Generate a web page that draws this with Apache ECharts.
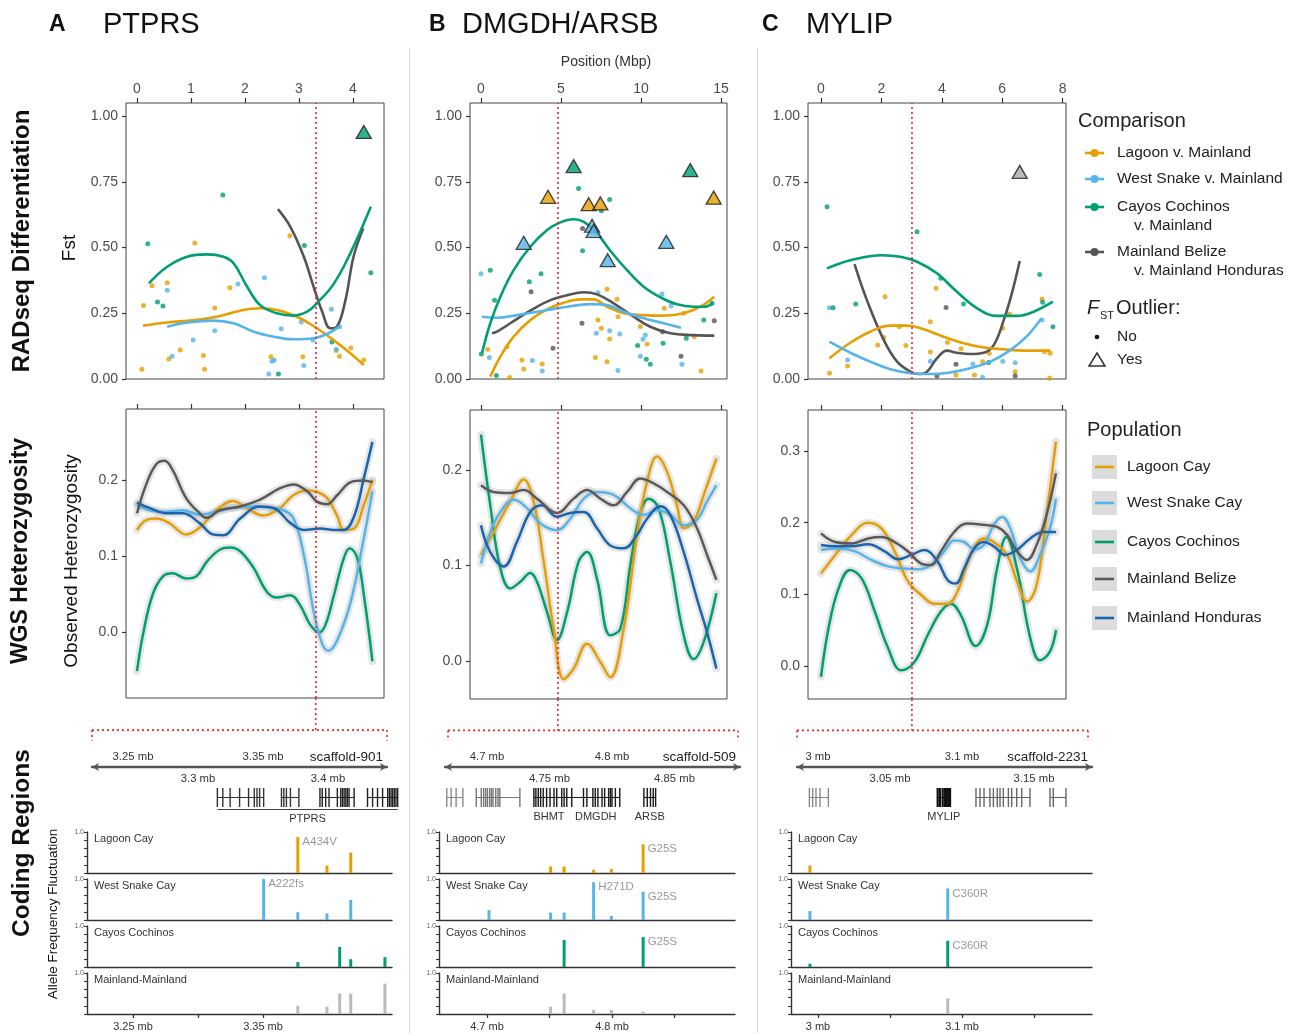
<!DOCTYPE html>
<html><head><meta charset="utf-8">
<script src="https://cdn.jsdelivr.net/npm/echarts@6/dist/echarts.min.js"></script>
<style>html,body{margin:0;padding:0;background:#fff}#c{width:1298px;height:1033px}</style>
</head><body><div id="c"></div><script>
// ================= DATA =================
const fstTicksA = [0,1,2,3,4], fstTicksB = [0,5,10,15], fstTicksC = [0,2,4,6,8];
const fstYTicks = [0,0.25,0.5,0.75,1];
const hetYTicksA = [0,0.1,0.2], hetYTicksB = [0,0.1,0.2], hetYTicksC = [0,0.1,0.2,0.3];
const redPos = [3.31, 4.8, 3.01];

// ---- Fst points (Position Mbp, Fst) ----
const fstA_lag = [[0.09,0.037],[0.12,0.28],[0.28,0.355],[0.56,0.366],[0.59,0.076],[0.80,0.11],[1.07,0.517],[1.23,0.089],[1.25,0.037],[1.44,0.27],[1.72,0.347],[2.48,0.085],[2.83,0.545],[3.07,0.085],[3.69,0.108],[3.75,0.087],[3.96,0.118],[4.20,0.072]];
const fstA_ws = [[0.56,0.338],[0.65,0.087],[1.04,0.148],[1.44,0.184],[1.87,0.361],[2.36,0.385],[2.44,0.019],[2.50,0.068],[2.54,0.072],[2.67,0.191],[3.04,0.217],[3.09,0.051],[3.26,0.148],[3.60,0.265],[3.69,0.113],[3.75,0.199]];
const fstA_cc = [[0.20,0.515],[0.38,0.293],[0.48,0.278],[1.59,0.70],[2.62,0.019],[3.10,0.508],[3.61,0.141],[4.33,0.404]];
const fstA_mm = [];
const fstA_out = [[4.20,0.94,'cc']];
const fitA_lag = [[0.11,0.203],[0.56,0.215],[1.05,0.224],[1.48,0.237],[1.91,0.26],[2.28,0.269],[2.65,0.26],[3.02,0.231],[3.33,0.193],[3.64,0.148],[3.95,0.098],[4.20,0.053]];
const fitA_ws = [[0.56,0.199],[0.93,0.215],[1.42,0.222],[1.79,0.212],[2.16,0.18],[2.53,0.161],[2.90,0.151],[3.27,0.155],[3.52,0.171],[3.77,0.203]];
const fitA_cc = [[0.22,0.364],[0.56,0.427],[0.93,0.465],[1.30,0.474],[1.60,0.465],[1.79,0.44],[2.04,0.351],[2.28,0.281],[2.59,0.25],[2.90,0.241],[3.15,0.256],[3.33,0.288],[3.64,0.361],[3.95,0.478],[4.33,0.655]];
const fitA_mm = [[2.61,0.646],[2.84,0.579],[3.09,0.465],[3.27,0.351],[3.43,0.256],[3.58,0.193],[3.70,0.199],[3.86,0.30],[4.01,0.465],[4.19,0.573]];

const fstB_lag = [[0.42,0.113],[1.63,0.123],[1.79,0.006],[2.56,0.072],[2.67,0.038],[3.83,0.057],[7.15,0.082],[7.31,0.224],[7.52,0.193],[7.88,0.341],[7.88,0.066],[8.04,0.152],[8.5,0.303],[8.56,0.237],[9.96,0.2],[10.38,0.133],[11.46,0.269],[12.67,0.25],[13.33,0.161],[13.75,0.03]];
const fstB_ws = [[0.0,0.40],[0.52,0.082],[3.21,0.07],[3.83,0.03],[7.21,0.174],[7.31,0.328],[8.04,0.184],[8.56,0.032],[8.67,0.171],[9.96,0.087],[10.13,0.151],[10.27,0.167],[11.31,0.323],[11.88,0.278],[12.56,0.056]];
const fstB_cc = [[0.02,0.095],[0.58,0.414],[0.85,0.30],[0.96,0.013],[3.02,0.37],[3.75,0.40],[6.1,0.725],[6.35,0.488],[7.52,0.64],[8.04,0.683],[9.79,0.127],[10.33,0.075],[10.58,0.056],[11.38,0.136],[12.83,0.155],[13.92,0.224],[14.44,0.288]];
const fstB_mm = [[3.13,0.332],[4.5,0.117],[6.31,0.212],[6.35,0.573],[11.35,0.18],[12.5,0.087],[14.58,0.222]];
const fstB_out = [[5.79,0.81,'cc'],[13.08,0.795,'cc'],[4.19,0.693,'lag'],[6.73,0.665,'lag'],[7.46,0.668,'lag'],[14.54,0.69,'lag'],[2.67,0.518,'ws'],[6.94,0.583,'ws'],[7.04,0.563,'ws'],[7.92,0.452,'ws'],[11.58,0.522,'ws']];
const fitB_lag = [[0.58,0.009],[1.21,0.085],[2.04,0.161],[3.08,0.224],[4.13,0.265],[5.17,0.29],[6.21,0.303],[7.04,0.303],[7.88,0.275],[8.92,0.25],[10.17,0.243],[11.42,0.241],[12.67,0.25],[13.71,0.275],[14.58,0.313]];
const fitB_ws = [[0.06,0.237],[1.0,0.233],[2.25,0.243],[3.92,0.26],[5.38,0.275],[6.83,0.285],[7.88,0.281],[8.92,0.256],[10.17,0.231],[11.42,0.212],[12.5,0.195]];
const fitB_cc = [[0.06,0.098],[0.58,0.212],[1.21,0.313],[2.04,0.414],[3.08,0.503],[4.13,0.567],[4.96,0.596],[5.79,0.608],[6.42,0.598],[7.25,0.554],[8.08,0.488],[9.13,0.414],[10.17,0.351],[11.21,0.311],[12.25,0.284],[13.29,0.275],[13.92,0.275],[14.5,0.288]];
const fitB_mm = [[0.69,0.174],[1.0,0.18],[1.83,0.212],[3.08,0.26],[4.33,0.30],[5.38,0.319],[6.42,0.33],[7.25,0.322],[8.29,0.288],[9.54,0.237],[10.58,0.199],[11.83,0.174],[13.29,0.167],[14.58,0.165]];

const fstC_lag = [[0.28,0.022],[0.88,0.049],[1.88,0.129],[2.08,0.158],[2.12,0.313],[2.59,0.199],[2.81,0.127],[3.62,0.218],[3.62,0.103],[3.81,0.345],[4.19,0.139],[4.47,0.015],[4.64,0.115],[5.08,0.015],[5.35,0.066],[5.57,0.098],[6.02,0.193],[6.24,0.247],[6.43,0.028],[7.32,0.304],[7.4,0.104],[7.57,0.003],[7.59,0.098]];
const fstC_ws = [[0.28,0.271],[0.88,0.072],[3.62,0.068],[5.03,0.057],[5.35,0.006],[6.02,0.068],[6.43,0.062],[7.32,0.224]];
const fstC_cc = [[0.2,0.655],[0.4,0.271],[1.15,0.285],[3.18,0.56],[3.97,0.383],[4.72,0.285],[5.55,0.063],[7.24,0.398],[7.34,0.292],[7.68,0.199]];
const fstC_mm = [[3.84,0.011],[4.14,0.272],[4.47,0.056],[6.43,0.011]];
const fstC_out = [[6.58,0.788,'mm']];
const fitC_lag = [[0.28,0.079],[0.97,0.138],[1.63,0.18],[2.3,0.203],[2.85,0.203],[3.4,0.189],[4.06,0.161],[4.72,0.136],[5.39,0.12],[6.05,0.113],[6.71,0.108],[7.59,0.108]];
const fitC_ws = [[0.28,0.142],[0.97,0.1],[1.63,0.066],[2.3,0.037],[2.96,0.022],[3.62,0.019],[4.28,0.025],[4.94,0.041],[5.61,0.066],[6.27,0.11],[6.82,0.163],[7.3,0.231]];
const fitC_cc = [[0.2,0.421],[0.97,0.452],[2.02,0.471],[2.63,0.465],[3.18,0.446],[3.84,0.402],[4.5,0.332],[5.17,0.269],[5.83,0.24],[6.49,0.24],[7.04,0.256],[7.68,0.294]];
const fitC_mm = [[1.11,0.437],[1.52,0.30],[2.08,0.148],[2.52,0.066],[2.96,0.028],[3.23,0.019],[3.51,0.028],[3.84,0.079],[4.17,0.108],[4.5,0.1],[4.94,0.095],[5.39,0.1],[5.72,0.129],[6.05,0.224],[6.32,0.326],[6.58,0.449]];

// ---- WGS heterozygosity smooths ----
const hetA_lag = [[0,0.135],[0.17,0.148],[0.35,0.15],[0.6,0.144],[0.91,0.129],[1.16,0.138],[1.47,0.161],[1.78,0.173],[2.03,0.164],[2.34,0.154],[2.65,0.164],[2.9,0.181],[3.15,0.187],[3.34,0.185],[3.52,0.177],[3.71,0.153],[3.83,0.135],[4.02,0.137],[4.2,0.168],[4.36,0.201]];
const hetA_ws = [[0,0.168],[0.23,0.161],[0.54,0.159],[0.85,0.161],[1.16,0.155],[1.47,0.159],[1.78,0.164],[2.16,0.166],[2.47,0.164],[2.71,0.161],[2.9,0.15],[3.09,0.102],[3.27,0.028],[3.43,-0.015],[3.55,-0.024],[3.71,-0.01],[3.96,0.041],[4.2,0.124],[4.36,0.186]];
const hetA_cc = [[0,-0.051],[0.11,-0.003],[0.29,0.05],[0.48,0.074],[0.66,0.078],[0.91,0.071],[1.1,0.074],[1.29,0.093],[1.53,0.109],[1.72,0.112],[1.91,0.107],[2.16,0.085],[2.4,0.054],[2.59,0.046],[2.84,0.049],[3.02,0.036],[3.21,0.01],[3.37,0.0],[3.49,0.01],[3.65,0.05],[3.83,0.098],[3.94,0.111],[4.08,0.098],[4.2,0.05],[4.36,-0.038]];
const hetA_mb = [[0,0.157],[0.17,0.195],[0.35,0.221],[0.51,0.226],[0.66,0.214],[0.91,0.177],[1.16,0.157],[1.29,0.151],[1.53,0.161],[1.91,0.166],[2.28,0.175],[2.65,0.19],[2.9,0.195],[3.15,0.186],[3.34,0.172],[3.52,0.169],[3.71,0.181],[3.96,0.198],[4.17,0.2],[4.36,0.198]];
const hetA_mh = [[0,0.171],[0.23,0.164],[0.54,0.157],[0.85,0.157],[1.16,0.144],[1.41,0.129],[1.6,0.128],[1.91,0.15],[2.28,0.166],[2.53,0.164],[2.84,0.144],[3.09,0.135],[3.4,0.137],[3.65,0.135],[3.83,0.135],[4.02,0.153],[4.2,0.203],[4.36,0.251]];

const hetB_lag = [[0,0.111],[0.79,0.135],[1.83,0.167],[2.67,0.19],[3.29,0.167],[3.92,0.104],[4.54,0.034],[5.17,-0.019],[5.79,-0.008],[6.63,0.018],[7.46,-0.001],[8.08,-0.017],[8.92,0.034],[9.75,0.132],[10.38,0.188],[11.0,0.214],[11.63,0.198],[12.25,0.163],[12.67,0.139],[13.29,0.146],[13.92,0.174],[14.71,0.212]];
const hetB_ws = [[0,0.102],[0.58,0.135],[1.21,0.156],[2.04,0.169],[2.88,0.16],[3.71,0.144],[4.75,0.137],[5.58,0.149],[6.42,0.17],[7.25,0.177],[8.29,0.174],[9.33,0.16],[10.17,0.153],[11.0,0.158],[11.83,0.153],[12.67,0.142],[13.5,0.148],[14.13,0.167],[14.71,0.184]];
const hetB_cc = [[0,0.237],[0.58,0.163],[1.21,0.097],[1.83,0.076],[2.46,0.083],[3.08,0.092],[3.5,0.083],[4.13,0.051],[4.75,0.022],[5.38,0.051],[6.1,0.104],[6.63,0.114],[7.25,0.086],[8.08,0.027],[8.71,0.034],[9.33,0.1],[9.96,0.155],[10.48,0.17],[11.1,0.16],[11.83,0.104],[12.67,0.027],[13.29,0.002],[13.92,0.02],[14.71,0.071]];
const hetB_mb = [[0,0.184],[0.79,0.177],[1.83,0.176],[2.67,0.179],[3.5,0.17],[4.75,0.155],[5.79,0.17],[6.63,0.179],[7.46,0.17],[8.29,0.163],[9.13,0.177],[9.96,0.191],[10.79,0.186],[11.63,0.177],[12.67,0.163],[13.5,0.139],[14.13,0.111],[14.71,0.085]];
const hetB_mh = [[0,0.142],[0.58,0.114],[1.42,0.099],[2.25,0.125],[3.08,0.156],[3.81,0.163],[4.75,0.151],[5.58,0.155],[6.42,0.156],[7.25,0.139],[8.08,0.121],[8.92,0.118],[9.75,0.132],[10.38,0.149],[11.21,0.162],[11.83,0.153],[12.67,0.114],[13.5,0.065],[14.13,0.03],[14.71,-0.008]];

const hetC_lag = [[0,0.129],[0.47,0.155],[1.02,0.183],[1.56,0.2],[2.0,0.192],[2.44,0.16],[2.88,0.118],[3.32,0.099],[3.75,0.087],[4.19,0.087],[4.52,0.104],[4.96,0.155],[5.39,0.178],[5.72,0.173],[6.16,0.155],[6.49,0.118],[6.82,0.09],[7.14,0.113],[7.47,0.211],[7.78,0.313]];
const hetC_ws = [[0,0.162],[0.58,0.164],[1.13,0.16],[1.67,0.148],[2.22,0.139],[2.77,0.136],[3.21,0.135],[3.64,0.141],[4.08,0.16],[4.41,0.175],[4.74,0.173],[5.07,0.163],[5.39,0.169],[5.72,0.197],[6.0,0.208],[6.27,0.192],[6.6,0.15],[6.93,0.132],[7.25,0.155],[7.58,0.192],[7.78,0.233]];
const hetC_cc = [[0,-0.015],[0.25,0.053],[0.58,0.108],[0.96,0.134],[1.35,0.122],[1.78,0.076],[2.22,0.025],[2.66,-0.006],[3.1,0.006],[3.53,0.043],[3.97,0.076],[4.3,0.087],[4.63,0.071],[5.12,0.028],[5.5,0.057],[5.83,0.136],[6.14,0.18],[6.49,0.136],[6.93,0.039],[7.25,0.008],[7.58,0.02],[7.78,0.05]];
const hetC_mb = [[0,0.185],[0.47,0.173],[1.02,0.171],[1.56,0.178],[2.0,0.18],[2.44,0.173],[2.88,0.16],[3.32,0.143],[3.64,0.141],[3.97,0.16],[4.41,0.187],[4.85,0.199],[5.39,0.197],[5.83,0.194],[6.16,0.183],[6.49,0.16],[6.82,0.148],[7.14,0.169],[7.47,0.211],[7.78,0.269]];
const hetC_mh = [[0,0.169],[0.47,0.167],[1.02,0.167],[1.56,0.17],[2.11,0.16],[2.55,0.149],[2.99,0.155],[3.42,0.162],[3.86,0.146],[4.19,0.12],[4.46,0.115],[4.74,0.136],[5.07,0.164],[5.39,0.173],[5.72,0.167],[6.1,0.155],[6.49,0.162],[6.93,0.178],[7.36,0.187],[7.78,0.187]];

// ---- coding regions: allele frequency fluctuation [mb, value, annotation] ----
const afA_lag = [[3.3768,0.88,'A434V'],[3.3992,0.18],[3.4175,0.5]];
const afA_ws = [[3.3505,1.0,'A222fs'],[3.3768,0.19],[3.3992,0.16],[3.4175,0.49]];
const afA_cc = [[3.3768,0.12],[3.409,0.49],[3.4175,0.19],[3.4438,0.24]];
const afA_mm = [[3.3768,0.2],[3.3992,0.18],[3.409,0.5],[3.4175,0.5],[3.4438,0.74]];
const afB_lag = [[4.7509,0.16],[4.7617,0.16],[4.7853,0.08],[4.7995,0.1],[4.8249,0.70,'G25S']];
const afB_ws = [[4.7016,0.24],[4.7509,0.18],[4.7617,0.18],[4.7853,0.92,'H271D'],[4.7995,0.1],[4.8249,0.69,'G25S']];
const afB_cc = [[4.7617,0.66],[4.8249,0.73,'G25S']];
const afB_mm = [[4.7509,0.18],[4.7617,0.5],[4.7853,0.1],[4.7995,0.1],[4.8249,0.06]];
const afC_lag = [[2.9944,0.18]];
const afC_ws = [[2.9944,0.22],[3.0901,0.77,'C360R']];
const afC_cc = [[2.9944,0.08],[3.0901,0.64,'C360R']];
const afC_mm = [[3.0901,0.38]];
const afPanels = ['Lagoon Cay','West Snake Cay','Cayos Cochinos','Mainland-Mainland'];

// ---- gene models: exon positions (mb) ----
const exonsA = [
  [3.3149,3.3191,3.3247,3.332,3.3389,3.3433,3.3454,3.3474,3.3505],
  [3.3642,3.366,3.368,3.3711,3.3776],
  [3.3938,3.3956,3.3982,3.4008,3.4072,3.4098,3.4111,3.4124,3.4137,3.4149,3.4162,3.4201],
  [3.4304,3.4343,3.4381,3.442,3.4459,3.4472,3.4485,3.4497,3.451,3.4523,3.4536]];
const exonsB = [
  [4.6678,4.6713,4.6753,4.6807],
  [4.6914,4.6954,4.6973,4.6989,4.7003,4.7021,4.7035,4.7048,4.707,4.7088,4.7102,4.7263],
  [4.7375,4.7391,4.741,4.7429,4.745,4.7477,4.7504,4.7536,4.7558,4.7598,4.7617,4.7638,4.7678,4.7772,4.7799,4.7847,4.7866,4.7887,4.792,4.7941,4.7973,4.7987,4.8,4.8027,4.8062],
  [4.8255,4.8282,4.8308,4.833,4.8349]];
const exonsC = [
  [2.994,2.9963,2.9986,3.0014,3.0072],
  [3.0831,3.0847,3.0866,3.0882,3.0894,3.0905,3.0917],
  [3.1097,3.1125,3.1153,3.1194,3.1218,3.1245,3.1264,3.1287,3.1322,3.1345,3.138,3.1415,3.1472],
  [3.1611,3.1634,3.1722]];
const geneLabelsA = [['PTPRS',3.3149,3.4536,1]];
const geneLabelsB = [['BHMT',4.7375,4.7617,0],['DMGDH',4.7678,4.8062,0],['ARSB',4.8255,4.8349,0]];
const geneLabelsC = [['MYLIP',3.0831,3.0917,0]];
const rulerTopA = [3.25,3.35], rulerBotA = [3.3,3.4], afTicksA = [3.25,3.3,3.35], afLabA = [3.25,3.35];
const rulerTopB = [4.7,4.8], rulerBotB = [4.75,4.85], afTicksB = [4.7,4.75,4.8,4.85], afLabB = [4.7,4.8];
const rulerTopC = [3.0,3.1], rulerBotC = [3.05,3.15], afTicksC = [3.0,3.05,3.1,3.15], afLabC = [3.0,3.1];
const scaffolds = ['scaffold-901','scaffold-509','scaffold-2231'];
const titles = [['A','PTPRS'],['B','DMGDH/ARSB'],['C','MYLIP']];

// ================= STYLE / LAYOUT =================
const FF = "'Liberation Sans', Arial, Helvetica, sans-serif";
const CMP = {lag:'#E69F00', ws:'#56B4E9', cc:'#009E73', mm:'#555555'};
const OUTC = {lag:'#E69F00', ws:'#56B4E9', cc:'#009E73', mm:'#AAAAAA'};
const POP = {lag:'#E69F00', ws:'#56B4E9', cc:'#009E73', mb:'#5a5a5a', mh:'#1A65AE'};
const AFC = {lag:'#E69F00', ws:'#56B4E9', cc:'#009E73', mm:'#BBBBBB'};
const RED = '#E8262B';
const cols = [
  {L:126,R:384,x0:137,ppu:54, hetTop:409, brL:92,brR:387, ruL:92,ruR:387, geL:92,geR:400, bL:87,bR:392, m0:3.25,p0:133,ppm:1300},
  {L:470,R:727,x0:481,ppu:16, hetTop:410, brL:448,brR:738, ruL:445,ruR:740, geL:440,geR:740, bL:439,bR:735, m0:4.7,p0:487,ppm:1250},
  {L:808,R:1066,x0:821,ppu:30.2, hetTop:410, brL:797,brR:1088, ruL:797,ruR:1092, geL:795,geR:1092, bL:791,bR:1092, m0:3.0,p0:818,ppm:1440}];
const hetRange = [[-0.0863,0.2943],[-0.0398,0.2628],[-0.046,0.3572]];
const hetTicks = [hetYTicksA, hetYTicksB, hetYTicksC];
const fstTicks = [fstTicksA, fstTicksB, fstTicksC];
const fstData = [
  {pts:{lag:fstA_lag,ws:fstA_ws,cc:fstA_cc,mm:fstA_mm}, fit:{lag:fitA_lag,ws:fitA_ws,cc:fitA_cc,mm:fitA_mm}, out:fstA_out},
  {pts:{lag:fstB_lag,ws:fstB_ws,cc:fstB_cc,mm:fstB_mm}, fit:{lag:fitB_lag,ws:fitB_ws,cc:fitB_cc,mm:fitB_mm}, out:fstB_out},
  {pts:{lag:fstC_lag,ws:fstC_ws,cc:fstC_cc,mm:fstC_mm}, fit:{lag:fitC_lag,ws:fitC_ws,cc:fitC_cc,mm:fitC_mm}, out:fstC_out}];
const hetData = [
  {cc:hetA_cc,lag:hetA_lag,ws:hetA_ws,mh:hetA_mh,mb:hetA_mb},
  {cc:hetB_cc,lag:hetB_lag,ws:hetB_ws,mh:hetB_mh,mb:hetB_mb},
  {cc:hetC_cc,lag:hetC_lag,ws:hetC_ws,mh:hetC_mh,mb:hetC_mb}];
const afData = [
  {lag:afA_lag,ws:afA_ws,cc:afA_cc,mm:afA_mm},
  {lag:afB_lag,ws:afB_ws,cc:afB_cc,mm:afB_mm},
  {lag:afC_lag,ws:afC_ws,cc:afC_cc,mm:afC_mm}];
const exons = [exonsA, exonsB, exonsC];
const geneLabels = [geneLabelsA, geneLabelsB, geneLabelsC];
const rulerTop = [rulerTopA, rulerTopB, rulerTopC], rulerBot = [rulerBotA, rulerBotB, rulerBotC];
const afTicks = [afTicksA, afTicksB, afTicksC], afLab = [afLabA, afLabB, afLabC];
const exonColors = [['#333','#333','#222','#222'],['#8a8a8a','#777','#1a1a1a','#1a1a1a'],['#8a8a8a','#111','#666','#666']];

const grids=[], xAxes=[], yAxes=[], series=[], graphic=[];
function addGrid(g, xa, ya){ grids.push(g); const gi=grids.length-1; xa.gridIndex=gi; ya.gridIndex=gi; xAxes.push(xa); yAxes.push(ya); return {gi, xi:xAxes.length-1, yi:yAxes.length-1}; }
const fstX = (c,px)=> (px - c.x0)/c.ppu;
const gmb = (c,px)=> c.m0 + (px - c.p0)/c.ppm;
const lab = {color:'#4d4d4d', fontSize:14, fontFamily:FF};
const noSplit = {show:false};
const noLine = {show:false, onZero:false};

cols.forEach((c, ci)=>{
  // ---------- Fst panel ----------
  const fa = addGrid({left:c.L, top:103, width:c.R-c.L, height:276, show:true, borderColor:'#444', borderWidth:1},
    {type:'value', position:'top', min:fstX(c,c.L), max:fstX(c,c.R), axisLine:noLine, splitLine:noSplit,
     axisTick:{show:true, length:5, customValues:fstTicks[ci], lineStyle:{color:'#333', width:1.2}},
     axisLabel:Object.assign({customValues:fstTicks[ci], margin:7}, lab)},
    {type:'value', position:'left', min:0, max:1.05, axisLine:noLine, splitLine:noSplit,
     axisTick:{show:true, length:4, customValues:fstYTicks, lineStyle:{color:'#333', width:1.2}},
     axisLabel:Object.assign({customValues:fstYTicks, margin:8, formatter:v=>v.toFixed(2)}, lab)});
  const fd = fstData[ci];
  ['lag','ws','cc','mm'].forEach(k=>{
    if (fd.pts[k].length) series.push({type:'scatter', xAxisIndex:fa.xi, yAxisIndex:fa.yi, data:fd.pts[k], symbolSize:5, itemStyle:{color:CMP[k]}, z:2, silent:true});
  });
  ['mm','lag','ws','cc'].forEach((k,i)=>{
    const s = {type:'line', xAxisIndex:fa.xi, yAxisIndex:fa.yi, data:fd.fit[k], smooth:0.4, showSymbol:false, lineStyle:{color:CMP[k], width:2.6}, z:3, silent:true};
    if (i===0) s.markLine = {silent:true, symbol:['none','none'], label:{show:false}, lineStyle:{color:RED, type:[2,3], width:1.6}, data:[{xAxis:redPos[ci]}]};
    series.push(s);
  });
  series.push({type:'scatter', xAxisIndex:fa.xi, yAxisIndex:fa.yi, symbol:'triangle', symbolSize:[15,13], z:5, silent:true,
    data:fd.out.map(o=>({value:[o[0],o[1]], itemStyle:{color:OUTC[o[2]], borderColor:'#1a1a1a', borderWidth:1.3}}))});

  // ---------- heterozygosity panel ----------
  const ha = addGrid({left:c.L, top:c.hetTop, width:c.R-c.L, height:289, show:true, borderColor:'#444', borderWidth:1},
    {type:'value', position:'top', min:fstX(c,c.L), max:fstX(c,c.R), axisLine:noLine, splitLine:noSplit,
     axisTick:{show:true, length:5, customValues:fstTicks[ci], lineStyle:{color:'#333', width:1.2}}, axisLabel:{show:false}},
    {type:'value', position:'left', min:hetRange[ci][0], max:hetRange[ci][1], axisLine:noLine, splitLine:noSplit,
     axisTick:{show:true, length:4, customValues:hetTicks[ci], lineStyle:{color:'#333', width:1.2}},
     axisLabel:Object.assign({customValues:hetTicks[ci], margin:8, formatter:v=>v.toFixed(1)}, lab)});
  const hd = hetData[ci];
  const order = ['cc','lag','ws','mh','mb'];
  order.forEach((k,i)=>{
    const s = {type:'line', xAxisIndex:ha.xi, yAxisIndex:ha.yi, data:hd[k], smooth:0.4, showSymbol:false, z:2, silent:true,
      lineStyle:{color:'rgba(165,165,165,0.28)', width:7.5, cap:'round'}};
    if (i===0) s.markLine = {silent:true, symbol:['none','none'], label:{show:false}, lineStyle:{color:RED, type:[2,3], width:1.6}, data:[{xAxis:redPos[ci]}]};
    series.push(s);
  });
  order.forEach(k=>{
    series.push({type:'line', xAxisIndex:ha.xi, yAxisIndex:ha.yi, data:hd[k], smooth:0.4, showSymbol:false, z:3, silent:true,
      lineStyle:{color:POP[k], width:2.5}});
  });

  // ---------- bracket linking Fst position to coding region ----------
  const hb = c.hetTop + 289;
  const ba = addGrid({left:c.brL, top:hb, width:c.brR-c.brL, height:742-hb, show:false},
    {type:'value', min:fstX(c,c.brL), max:fstX(c,c.brR), show:false},
    {type:'value', min:0, max:1, show:false});
  series.push({type:'custom', xAxisIndex:ba.xi, yAxisIndex:ba.yi, silent:true, data:[[redPos[ci]]],
    renderItem:(params, api)=>{
      const cs = params.coordSys; const p = api.coord([api.value(0), 1]);
      const yb = cs.y + cs.height*0.73, ye = cs.y + cs.height*0.97;
      const st = {stroke:RED, lineWidth:1.6, lineDash:[2,3], fill:null};
      return {type:'group', children:[
        {type:'line', shape:{x1:p[0], y1:cs.y, x2:p[0], y2:yb}, style:st},
        {type:'line', shape:{x1:cs.x, y1:yb, x2:cs.x+cs.width, y2:yb}, style:st},
        {type:'line', shape:{x1:cs.x, y1:yb, x2:cs.x, y2:ye}, style:st},
        {type:'line', shape:{x1:cs.x+cs.width, y1:yb, x2:cs.x+cs.width, y2:ye}, style:st}]};
    }});

  // ---------- genomic ruler ----------
  const rlab = {fontSize:11.3, color:'#333', fontFamily:FF, margin:5, formatter:v=>v+' mb'};
  const ra = addGrid({left:c.ruL, top:767, width:c.ruR-c.ruL, height:1, show:false},
    {type:'value', position:'top', min:gmb(c,c.ruL), max:gmb(c,c.ruR), splitLine:noSplit, axisTick:{show:false},
     axisLine:{show:true, onZero:false, symbol:['arrow','arrow'], symbolSize:[6,7], lineStyle:{color:'#555', width:2.4}},
     axisLabel:Object.assign({customValues:rulerTop[ci]}, rlab),
     name:scaffolds[ci], nameLocation:'end', nameGap:-4,
     nameTextStyle:{align:'right', verticalAlign:'bottom', fontSize:13.5, color:'#222', fontFamily:FF, padding:[0,0,3,0]}},
    {type:'value', min:0, max:1, show:false});
  xAxes.push({type:'value', gridIndex:ra.gi, position:'bottom', min:gmb(c,c.ruL), max:gmb(c,c.ruR), splitLine:noSplit,
    axisTick:{show:false}, axisLine:noLine, axisLabel:Object.assign({customValues:rulerBot[ci]}, rlab)});

  // ---------- gene models ----------
  const ga = addGrid({left:c.geL, top:788, width:c.geR-c.geL, height:19, show:false},
    {type:'value', min:gmb(c,c.geL), max:gmb(c,c.geR), show:false},
    {type:'value', min:0, max:1, show:false});
  const ex = exons[ci], exc = exonColors[ci];
  series.push({type:'custom', xAxisIndex:ga.xi, yAxisIndex:ga.yi, silent:true,
    data:ex.map((e,i)=>[e[0], e[e.length-1], i]),
    renderItem:(params, api)=>{
      const i = api.value(2); const list = ex[i]; const col = exc[i];
      const a = api.coord([api.value(0), 0.5]), b = api.coord([api.value(1), 0.5]);
      const ch = [{type:'line', shape:{x1:a[0], y1:a[1], x2:b[0], y2:b[1]}, style:{stroke:col, lineWidth:1.1}}];
      list.forEach(x=>{ const p = api.coord([x,0]), q = api.coord([x,1]);
        ch.push({type:'line', shape:{x1:p[0], y1:p[1], x2:q[0], y2:q[1]}, style:{stroke:col, lineWidth:ci===2&&i===1?2.2:1.4}}); });
      return {type:'group', children:ch};
    }});
  const gl = geneLabels[ci];
  series.push({type:'custom', xAxisIndex:ga.xi, yAxisIndex:ga.yi, silent:true,
    data:gl.map((g,i)=>[g[1], g[2], g[3], i]),
    renderItem:(params, api)=>{
      const a = api.coord([api.value(0), 0]), b = api.coord([api.value(1), 0]);
      const name = gl[api.value(3)][0]; const ch = [];
      if (api.value(2)) ch.push({type:'line', shape:{x1:a[0], y1:a[1]+2.5, x2:b[0], y2:b[1]+2.5}, style:{stroke:'#444', lineWidth:1}});
      ch.push({type:'text', style:{text:name, x:(a[0]+b[0])/2, y:a[1]+ (api.value(2)?12:10), align:'center', verticalAlign:'middle', fontSize:11, fill:'#333', fontFamily:FF}});
      return {type:'group', children:ch};
    }});

  // ---------- allele frequency fluctuation panels ----------
  const tops = [832, 879, 926, 973];
  ['lag','ws','cc','mm'].forEach((k, pi)=>{
    const bottom = pi===3;
    const aa = addGrid({left:c.bL, top:tops[pi], width:c.bR-c.bL, height:41, show:false},
      {type:'value', min:gmb(c,c.bL), max:gmb(c,c.bR), splitLine:noSplit,
       axisLine:{show:true, onZero:false, lineStyle:{color:'#333', width:1.4}},
       axisTick:{show:bottom, customValues:afTicks[ci], length:4, lineStyle:{color:'#333', width:1.3}},
       axisLabel:{show:bottom, customValues:afLab[ci], formatter:v=>v+' mb', fontSize:11, color:'#333', fontFamily:FF, margin:7}},
      {type:'value', min:0, max:1, interval:0.2, splitLine:noSplit,
       axisLine:{show:true, onZero:false, lineStyle:{color:'#333', width:1.4}},
       axisTick:{show:true, length:3, lineStyle:{color:'#333', width:1.1}},
       axisLabel:{formatter:v=>v===1?'1.0':'', fontSize:7, color:'#666', fontFamily:FF, margin:3}});
    series.push({type:'bar', xAxisIndex:aa.xi, yAxisIndex:aa.yi, barWidth:3, silent:true,
      itemStyle:{color:AFC[k]},
      data:afData[ci][k].map(d=>{
        const o = {value:[d[0], d[1]]};
        if (d[2]) o.label = {show:true, formatter:d[2], position:[6,-1], fontSize:11.5, color:'#999', fontFamily:FF};
        return o; })});
    graphic.push({type:'text', left:c.bL+7, top:tops[pi]+1, style:{text:afPanels[pi], fontSize:11, fill:'#333', fontFamily:FF}});
  });

  // titles
  graphic.push({type:'text', left:[49,429,762][ci], top:13, style:{text:titles[ci][0], fontSize:23, fontWeight:'bold', fill:'#111', fontFamily:FF}});
  graphic.push({type:'text', left:[103,462,806][ci], top:10, style:{text:titles[ci][1], fontSize:29, fill:'#111', fontFamily:FF}});
});

// separators & labels
graphic.push({type:'line', shape:{x1:409.5,y1:48,x2:409.5,y2:1033}, style:{stroke:'#d8d8d8', lineWidth:1}, z:-1});
graphic.push({type:'line', shape:{x1:757.5,y1:48,x2:757.5,y2:1033}, style:{stroke:'#d8d8d8', lineWidth:1}, z:-1});
graphic.push({type:'text', x:606, y:62, style:{text:'Position (Mbp)', fontSize:14, fill:'#333', fontFamily:FF, align:'center', verticalAlign:'middle'}});
function vtext(t, x, y, size, bold){ graphic.push({type:'text', x, y, rotation:Math.PI/2, style:{text:t, fontSize:size, fontWeight:bold?'bold':'normal', fill:'#111', fontFamily:FF, align:'center', verticalAlign:'middle'}}); }
vtext('RADseq Differentiation', 22, 241, 24, true);
vtext('WGS Heterozygosity', 21, 551, 23, true);
vtext('Coding Regions', 22, 843, 24.5, true);
vtext('Fst', 70, 248, 19, false);
vtext('Observed Heterozygosity', 72, 561, 19, false);
vtext('Allele Frequency Fluctuation', 53, 914, 13.5, false);

// legend: Comparison
graphic.push({type:'text', left:1078, top:111, style:{text:'Comparison', fontSize:20, fill:'#222', fontFamily:FF}});
const cmpLeg = [['Lagoon v. Mainland','',CMP.lag,153],['West Snake v. Mainland','',CMP.ws,179],['Cayos Cochinos','v. Mainland',CMP.cc,207],['Mainland Belize','v. Mainland Honduras',CMP.mm,252]];
cmpLeg.forEach(l=>{
  graphic.push({type:'line', shape:{x1:1085,y1:l[3],x2:1104,y2:l[3]}, style:{stroke:l[2], lineWidth:2.6}});
  graphic.push({type:'circle', shape:{cx:1094.5, cy:l[3], r:4}, style:{fill:l[2]}});
  graphic.push({type:'text', x:1117, y:l[3], style:{text:l[0], fontSize:15.5, fill:'#222', fontFamily:FF, verticalAlign:'middle'}});
  if (l[1]) graphic.push({type:'text', x:1134, y:l[3]+19, style:{text:l[1], fontSize:15.5, fill:'#222', fontFamily:FF, verticalAlign:'middle'}});
});
graphic.push({type:'text', x:1087, y:308, style:{text:'F', fontSize:20, fontStyle:'italic', fill:'#222', fontFamily:FF, verticalAlign:'middle'}});
graphic.push({type:'text', x:1100, y:316, style:{text:'ST', fontSize:11, fill:'#222', fontFamily:FF, verticalAlign:'middle'}});
graphic.push({type:'text', x:1116, y:308, style:{text:'Outlier:', fontSize:20, fill:'#222', fontFamily:FF, verticalAlign:'middle'}});
graphic.push({type:'circle', shape:{cx:1097, cy:337, r:2.3}, style:{fill:'#111'}});
graphic.push({type:'text', x:1117, y:337, style:{text:'No', fontSize:15.5, fill:'#222', fontFamily:FF, verticalAlign:'middle'}});
graphic.push({type:'polygon', shape:{points:[[1097,353],[1105,366],[1089,366]]}, style:{fill:'none', stroke:'#333', lineWidth:1.5}});
graphic.push({type:'text', x:1117, y:360, style:{text:'Yes', fontSize:15.5, fill:'#222', fontFamily:FF, verticalAlign:'middle'}});

// legend: Population
graphic.push({type:'text', left:1087, top:420, style:{text:'Population', fontSize:20, fill:'#222', fontFamily:FF}});
const popLeg = [['Lagoon Cay',POP.lag,467],['West Snake Cay',POP.ws,503],['Cayos Cochinos',POP.cc,542],['Mainland Belize',POP.mb,579],['Mainland Honduras',POP.mh,618]];
popLeg.forEach(l=>{
  graphic.push({type:'rect', shape:{x:1092, y:l[2]-12, width:25, height:24}, style:{fill:'#dcdcdc'}});
  graphic.push({type:'line', shape:{x1:1095,y1:l[2],x2:1114,y2:l[2]}, style:{stroke:l[1], lineWidth:2.6}});
  graphic.push({type:'text', x:1127, y:l[2], style:{text:l[0], fontSize:15.5, fill:'#222', fontFamily:FF, verticalAlign:'middle'}});
});

const chart = echarts.init(document.getElementById('c'), null, {renderer:'canvas'});
chart.setOption({animation:false, backgroundColor:'#ffffff', textStyle:{fontFamily:FF},
  grid:grids, xAxis:xAxes, yAxis:yAxes, series, graphic});
</script></body></html>
